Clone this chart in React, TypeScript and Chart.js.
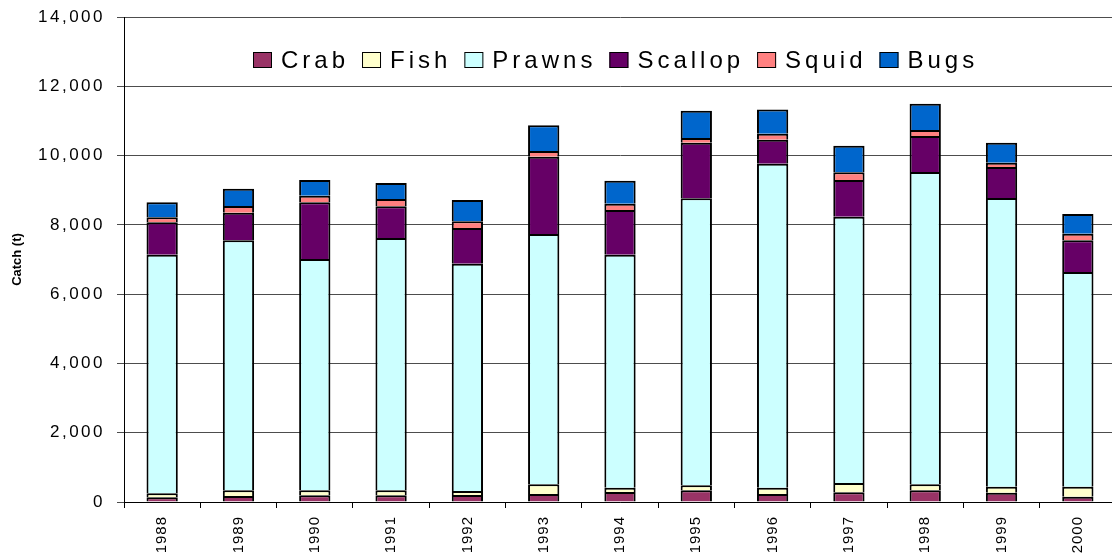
import React, { useEffect, useRef } from "react";
import { Chart, registerables } from "chart.js";

Chart.register(...registerables);

const years = ["1988", "1989", "1990", "1991", "1992", "1993", "1994", "1995", "1996", "1997", "1998", "1999", "2000"];
const crab = [135, 173, 193, 193, 202, 231, 289, 337, 231, 279, 337, 270, 154];
const fish = [115, 164, 144, 144, 115, 279, 125, 145, 183, 269, 173, 173, 289];
const prawns = [6887, 7216, 6676, 7282, 6560, 7224, 6723, 8283, 9349, 7686, 9014, 8330, 6195];
const scallop = [935, 797, 1636, 915, 1031, 2232, 1290, 1605, 693, 1059, 1039, 895, 915];
const squid = [145, 193, 191, 211, 193, 164, 182, 135, 173, 222, 173, 125, 190];
const bugs = [432, 499, 453, 461, 615, 742, 664, 788, 704, 768, 759, 577, 569];

const seriesNames = ["Crab", "Fish", "Prawns", "Scallop", "Squid", "Bugs"];
const seriesValues = [crab, fish, prawns, scallop, squid, bugs];
const seriesColors = ["#993366", "#FFFFCC", "#CCFFFF", "#660066", "#FF8080", "#0066CC"];

const yMin = 0;
const yMax = 14000;
const yStep = 2000;
const yTitle = "Catch (t)";

const FONT = '"Liberation Sans", Arial, Helvetica, sans-serif';
const SPACING = "2.5px";
const X_SPACING = "1px";

const W = 1117;
const H = 555;

const customPlugin = {
  id: "custom",
  beforeUpdate(chart: any) {
    chart.ctx.letterSpacing = SPACING;
  },
  beforeLayout(chart: any) {
    chart.ctx.letterSpacing = SPACING;
  },
  beforeDraw(chart: any) {
    chart.ctx.letterSpacing = SPACING;
  },
  afterDatasetsDraw(chart: any) {
    chart.ctx.letterSpacing = X_SPACING;
  },
  afterDraw(chart: any) {
    const ctx = chart.ctx as CanvasRenderingContext2D;
    const area = chart.chartArea;
    // y-axis title
    ctx.save();
    (ctx as any).letterSpacing = "0px";
    ctx.translate(17, (area.top + area.bottom) / 2);
    ctx.rotate(-Math.PI / 2);
    ctx.font = `bold 13px ${FONT}`;
    ctx.fillStyle = "#000";
    ctx.textAlign = "center";
    ctx.textBaseline = "middle";
    ctx.fillText(yTitle, 0, 0);
    ctx.restore();

    // legend
    ctx.save();
    (ctx as any).letterSpacing = "4px";
    ctx.font = `24px ${FONT}`;
    ctx.textAlign = "left";
    ctx.textBaseline = "alphabetic";
    let x = 253;
    const boxY = 52;
    for (let i = 0; i < seriesNames.length; i++) {
      ctx.fillStyle = seriesColors[i];
      ctx.fillRect(x, boxY, 19, 16);
      ctx.strokeStyle = "#000";
      ctx.lineWidth = 1;
      ctx.strokeRect(x + 0.5, boxY + 0.5, 18, 15);
      ctx.fillStyle = "#000";
      ctx.fillText(seriesNames[i], x + 28, 68);
      x += 28 + ctx.measureText(seriesNames[i]).width + 13;
    }
    ctx.restore();
  },
};

export default function App() {
  const canvasRef = useRef<HTMLCanvasElement | null>(null);

  useEffect(() => {
    document.body.style.overflow = "hidden";
    const canvas = canvasRef.current;
    if (!canvas) return;
    const chart = new Chart(canvas, {
      type: "bar",
      data: {
        labels: years,
        datasets: seriesNames.map((name, i) => ({
          label: name,
          data: seriesValues[i],
          backgroundColor: seriesColors[i],
          borderColor: "#000",
          borderWidth: 2,
          borderSkipped: "start",
          barPercentage: 0.41,
          categoryPercentage: 1,
          stack: "catch",
        })),
      },
      options: {
        responsive: false,
        animation: false,
        layout: { padding: { top: 17, right: 1, left: 0, bottom: 0 } },
        plugins: {
          legend: { display: false },
          tooltip: { enabled: false },
        },
        scales: {
          x: {
            stacked: true,
            afterFit: (s: any) => {
              s.height = 53;
              s.paddingLeft = 0;
              s.paddingRight = 0;
            },
            grid: {
              display: true,
              drawOnChartArea: false,
              drawTicks: true,
              tickLength: 6,
              offset: true,
              color: "#000",
              lineWidth: 1,
            },
            border: { display: true, color: "#000", width: 1 },
            ticks: {
              z: 1,
              autoSkip: false,
              minRotation: 90,
              maxRotation: 90,
              padding: 8,
              color: "#000",
              font: { family: FONT, size: 15 },
            },
          },
          y: {
            stacked: true,
            min: yMin,
            max: yMax,
            afterFit: (s: any) => {
              s.width = 124;
              s.paddingTop = 0;
              s.paddingBottom = 0;
            },
            grid: {
              color: "#4d4d4d",
              lineWidth: 1,
              drawTicks: true,
              tickLength: 7,
            },
            border: { display: true, color: "#000", width: 1 },
            ticks: {
              stepSize: yStep,
              padding: 12,
              color: "#000",
              font: { family: FONT, size: 17 },
              callback: (v: any) => Number(v).toLocaleString("en-US"),
            },
          },
        },
      },
      plugins: [customPlugin],
    } as any);
    return () => chart.destroy();
  }, []);

  return (
    <div style={{ position: "absolute", left: 0, top: 0, width: W, height: H, overflow: "hidden" }}>
      <canvas ref={canvasRef} width={W} height={H} style={{ display: "block" }} />
    </div>
  );
}
